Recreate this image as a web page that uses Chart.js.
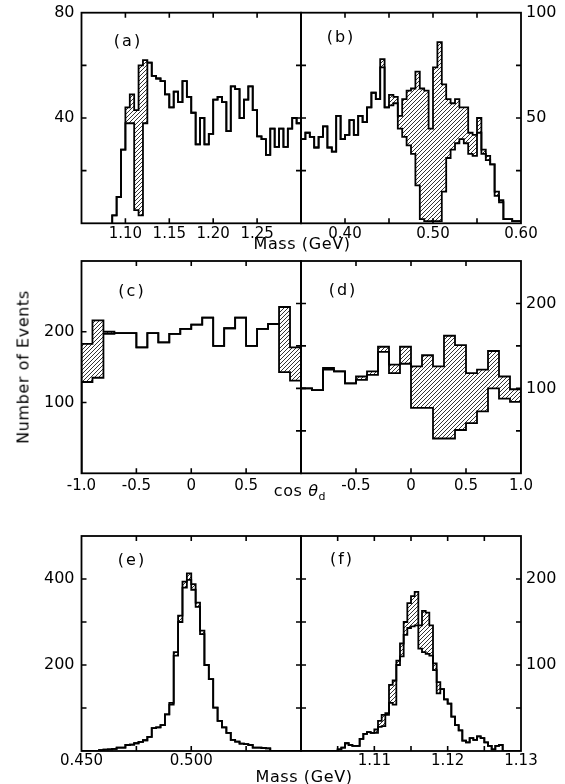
<!DOCTYPE html>
<html>
<head>
<meta charset="utf-8">
<script src="https://cdn.jsdelivr.net/npm/chart.js@4.4.1/dist/chart.umd.min.js"></script>
<style>
body { margin: 0; background: #fff; }
#fig { position: relative; width: 565px; height: 784px; overflow: hidden; font-family: "DejaVu Sans", sans-serif; color: #000; }
#fig canvas { position: absolute; left: 0; top: 0; }
.t { position: absolute; transform: translate(-50%, -50%); white-space: nowrap; }
.p { font-size: 16px; letter-spacing: 2px; }
.ax { font-size: 16px; letter-spacing: 0.6px; }
</style>
</head>
<body>
<div id="fig">
  <canvas id="ca" width="565" height="784"></canvas>
  <canvas id="cb" width="565" height="784"></canvas>
  <canvas id="cc" width="565" height="784"></canvas>
  <canvas id="cd" width="565" height="784"></canvas>
  <canvas id="ce" width="565" height="784"></canvas>
  <canvas id="cf" width="565" height="784"></canvas>
  <div class="t p" style="left:128px;top:40px">(a)</div>
  <div class="t p" style="left:341px;top:36px">(b)</div>
  <div class="t p" style="left:132px;top:290px">(c)</div>
  <div class="t p" style="left:343px;top:289px">(d)</div>
  <div class="t p" style="left:132px;top:559px">(e)</div>
  <div class="t p" style="left:342px;top:558px">(f)</div>
  <div class="t ax" style="left:302px;top:243px">Mass (GeV)</div>
  <div class="t ax" style="left:300px;top:492px">cos <i>θ</i><sub style="font-size:11px">d</sub></div>
  <div class="t ax" style="left:304px;top:776px">Mass (GeV)</div>
  <div class="t ax" style="left:23px;top:367px;transform:translate(-50%,-50%) rotate(-90deg)">Number of Events</div>
</div>
<script>
// (a) mass spectrum, 5 MeV bins from 1.085 GeV
const aStart = 1.085, aWidth = 0.005;
const aAll = [3, 10, 28, 44, 49, 43, 60, 62, 61, 56, 55, 54, 49, 44, 50, 46, 54, 48, 42, 30, 40, 30, 34, 47, 48, 46, 35, 52, 51, 40, 47, 52, 43, 33, 32, 26, 36, 29, 36, 29, 36, 40, 38];
const aCut = [3, 10, 28, 38, 38, 5, 3, 38, 61, 56, 55, 54, 49, 44, 50, 46, 54, 48, 42, 30, 40, 30, 34, 47, 48, 46, 35, 52, 51, 40, 47, 52, 43, 33, 32, 26, 36, 29, 36, 29, 36, 40, 38];
const aXTicks = ['1.10', '1.15', '1.20', '1.25'];
const aYTicks = ['40', '80'];

// (b) mass spectrum, 5 MeV bins from 0.35 GeV
const bStart = 0.35, bWidth = 0.005;
const bAll = [40, 43, 41, 36, 41, 46, 36, 34, 51, 40, 42, 49, 42, 51, 48, 55, 62, 59, 78, 55, 61, 60, 51, 59, 63, 64, 72, 64, 63, 45, 74, 86, 66, 59, 57, 59, 55, 55, 43, 42, 50, 35, 32, 28, 15, 11, 2, 2, 1, 1];
const bCut = [40, 43, 41, 36, 41, 46, 36, 34, 51, 40, 42, 49, 42, 51, 48, 55, 62, 59, 74, 55, 56, 57, 45, 41, 37, 33, 18, 2, 1, 1, 1, 1, 15, 31, 35, 38, 40, 38, 33, 32, 43, 33, 30, 28, 13, 10, 2, 2, 1, 1];
const bXTicks = ['0.40', '0.50', '0.60'];
const bYTicks = ['50', '100'];

// (c) cos theta_d, bins of 0.1
const cStart = -1, cWidth = 0.1;
const cAll = [183, 216, 200, 198, 198, 178, 198, 185, 197, 204, 210, 220, 180, 205, 220, 180, 204, 211, 235, 178];
const cCut = [129, 135, 197, 198, 198, 178, 198, 185, 197, 204, 210, 220, 180, 205, 220, 180, 204, 211, 143, 131];
const cXTicks = ['-1.0', '-0.5', '0', '0.5'];
const cYTicks = ['100', '200'];

// (d) cos theta_d, bins of 0.1
const dStart = -1, dWidth = 0.1;
const dAll = [100, 98, 124, 120, 106, 114, 120, 149, 128, 149, 126, 139, 126, 162, 151, 118, 122, 144, 114, 99];
const dCut = [100, 98, 122, 120, 106, 110, 116, 143, 118, 129, 77, 77, 41, 41, 51, 59, 73, 100, 88, 84];
const dXTicks = ['-0.5', '0', '0.5', '1.0'];
const dYTicks = ['100', '200'];

// (e) mass, 2 MeV bins from 0.450 GeV
const eStart = 0.45, eWidth = 0.002;
const eAll = [0, 0, 0, 0, 2, 3, 4, 5, 8, 8, 14, 15, 18, 21, 25, 33, 53, 55, 60, 85, 112, 230, 315, 394, 413, 388, 345, 280, 200, 167, 101, 70, 55, 42, 26, 22, 17, 16, 14, 8, 8, 7, 6, 0, 0, 0, 0, 0, 0, 0];
const eCut = [0, 0, 0, 0, 2, 3, 4, 5, 8, 8, 14, 15, 18, 21, 25, 33, 53, 55, 60, 85, 108, 222, 300, 380, 398, 375, 335, 272, 200, 167, 101, 70, 55, 42, 26, 22, 17, 16, 14, 8, 8, 7, 6, 0, 0, 0, 0, 0, 0, 0];
const eXTicks = ['0.450', '0.500'];
const eYTicks = ['200', '400'];

// (f) mass, 0.5 MeV bins from 1.100 GeV
const fStart = 1.10, fWidth = 0.0005;
const fAll = [0, 0, 0, 0, 0, 0, 0, 0, 0, 0, 2, 4, 9, 7, 6, 6, 14, 20, 22, 21, 25, 35, 42, 44, 77, 82, 105, 125, 150, 172, 180, 185, 146, 163, 161, 146, 102, 80, 72, 60, 55, 40, 30, 24, 12, 10, 15, 13, 17, 15, 10, 6, 2, 6, 7, 0, 0, 0, 0, 0];
const fCut = [0, 0, 0, 0, 0, 0, 0, 0, 0, 0, 2, 4, 9, 7, 6, 6, 14, 20, 22, 21, 21, 28, 29, 42, 56, 54, 100, 110, 135, 143, 145, 146, 119, 115, 113, 111, 94, 67, 72, 60, 55, 40, 30, 24, 12, 10, 15, 13, 17, 15, 10, 6, 2, 6, 7, 0, 0, 0, 0, 0];
const fXTicks = ['1.11', '1.12', '1.13'];
const fYTicks = ['100', '200'];

const FONT = 'DejaVu Sans';

// histogram outline: bin edges with the value held across each bin
function steps(x0, dx, vals) {
    const pts = [{ x: x0, y: 0 }];
    vals.forEach((v, i) => pts.push({ x: x0 + i * dx, y: v }));
    const end = x0 + vals.length * dx;
    pts.push({ x: end, y: vals[vals.length - 1] });
    pts.push({ x: end, y: 0 });
    return pts;
}

function hatch(ctx) {
    const c = document.createElement('canvas');
    c.width = c.height = 4;
    const g = c.getContext('2d');
    g.strokeStyle = '#000';
    g.lineWidth = 0.8;
    g.beginPath();
    g.moveTo(-1, 5); g.lineTo(5, -1);
    g.moveTo(-1, 1); g.lineTo(1, -1);
    g.moveTo(3, 5); g.lineTo(5, 3);
    g.stroke();
    return ctx.createPattern(c, 'repeat');
}

function tickText(list) {
    return v => {
        const s = list.find(s => Math.abs(parseFloat(s) - v) < 1e-9);
        return s === undefined ? '' : s;
    };
}

// frame with inward tick marks on every side
const frame = {
    id: 'frame',
    afterDraw(chart, args, o) {
        const { ctx, chartArea: a, scales: { x, y } } = chart;
        const L = 5;
        ctx.save();
        ctx.strokeStyle = '#000';
        ctx.lineWidth = 1.6;
        ctx.beginPath();
        x.ticks.forEach(t => {
            const p = x.getPixelForValue(t.value);
            if (p <= a.left + 1 || p >= a.right - 1) return;
            ctx.moveTo(p, a.top); ctx.lineTo(p, a.top + L);
            ctx.moveTo(p, a.bottom); ctx.lineTo(p, a.bottom - L);
        });
        y.ticks.forEach(t => {
            const p = y.getPixelForValue(t.value);
            if (p <= a.top + 1 || p >= a.bottom - 1) return;
            if (o.side === 'right') {
                ctx.moveTo(a.right, p); ctx.lineTo(a.right - L, p);
                ctx.moveTo(a.left - L, p); ctx.lineTo(a.left + L, p);
            } else {
                ctx.moveTo(a.left, p); ctx.lineTo(a.left + L, p);
            }
        });
        ctx.stroke();
        ctx.lineWidth = 1.8;
        ctx.strokeRect(a.left, a.top, a.right - a.left, a.bottom - a.top);
        ctx.restore();
    }
};

function panel(id, p) {
    const canvas = document.getElementById(id);
    const ctx = canvas.getContext('2d');
    const W = canvas.width, H = canvas.height, AX = 40, AY = 24;
    const [l, t, r, b] = p.box;
    const pad = p.side === 'right'
        ? { left: l, right: W - r - AX, top: t, bottom: H - b - AY }
        : { left: l - AX, right: W - r, top: t, bottom: H - b - AY };
    const fix = size => s => {
        if (s.isHorizontal()) s.height = size; else s.width = size;
        s.paddingLeft = s.paddingRight = s.paddingTop = s.paddingBottom = 0;
    };
    const line = { borderColor: '#000', borderWidth: 1.8, stepped: true, pointRadius: 0 };
    return new Chart(ctx, {
        type: 'line',
        data: {
            datasets: [
                { ...line, data: steps(p.x0, p.dx, p.all), fill: false },
                { ...line, data: steps(p.x0, p.dx, p.cut), fill: '-1', backgroundColor: hatch(ctx) }
            ]
        },
        options: {
            responsive: false,
            animation: false,
            devicePixelRatio: 1,
            events: [],
            layout: { padding: pad },
            scales: {
                x: {
                    type: 'linear', min: p.xMin, max: p.xMax,
                    afterFit: fix(AY),
                    grid: { display: false, drawTicks: false },
                    border: { display: false },
                    ticks: {
                        stepSize: p.xStep, autoSkip: false, maxRotation: 0, minRotation: 0,
                        padding: p.xPad, color: '#000', font: { family: FONT, size: 15 },
                        callback: tickText(p.xTicks)
                    }
                },
                y: {
                    type: 'linear', position: p.side, min: 0, max: p.yMax,
                    afterFit: fix(AX),
                    grid: { display: false, drawTicks: false },
                    border: { display: false },
                    ticks: {
                        stepSize: p.yStep, autoSkip: false,
                        padding: p.side === 'right' ? 5 : 7, color: '#000', font: { family: FONT, size: 16 },
                        callback: tickText(p.yTicks)
                    }
                }
            },
            plugins: { legend: { display: false }, tooltip: { enabled: false }, frame: { side: p.side } }
        },
        plugins: [frame]
    });
}

const colL = [81.5, 301], colR = [301, 521];
const row1 = [12.7, 223.3], row2 = [261, 473.3], row3 = [536, 751];

panel('ca', { box: [colL[0], row1[0], colL[1], row1[1]], side: 'left', x0: aStart, dx: aWidth, all: aAll, cut: aCut,
    xMin: 1.05, xMax: 1.30, xStep: 0.05, xTicks: aXTicks, xPad: 2, yMax: 80, yStep: 20, yTicks: aYTicks });
panel('cb', { box: [colR[0], row1[0], colR[1], row1[1]], side: 'right', x0: bStart, dx: bWidth, all: bAll, cut: bCut,
    xMin: 0.35, xMax: 0.60, xStep: 0.05, xTicks: bXTicks, xPad: 2, yMax: 100, yStep: 25, yTicks: bYTicks });
panel('cc', { box: [colL[0], row2[0], colL[1], row2[1]], side: 'left', x0: cStart, dx: cWidth, all: cAll, cut: cCut,
    xMin: -1, xMax: 1, xStep: 0.5, xTicks: cXTicks, xPad: 4, yMax: 300, yStep: 100, yTicks: cYTicks });
panel('cd', { box: [colR[0], row2[0], colR[1], row2[1]], side: 'right', x0: dStart, dx: dWidth, all: dAll, cut: dCut,
    xMin: -1, xMax: 1, xStep: 0.5, xTicks: dXTicks, xPad: 4, yMax: 250, yStep: 50, yTicks: dYTicks });
panel('ce', { box: [colL[0], row3[0], colL[1], row3[1]], side: 'left', x0: eStart, dx: eWidth, all: eAll, cut: eCut,
    xMin: 0.45, xMax: 0.55, xStep: 0.025, xTicks: eXTicks, xPad: 1, yMax: 500, yStep: 100, yTicks: eYTicks });
panel('cf', { box: [colR[0], row3[0], colR[1], row3[1]], side: 'right', x0: fStart, dx: fWidth, all: fAll, cut: fCut,
    xMin: 1.10, xMax: 1.13, xStep: 0.005, xTicks: fXTicks, xPad: 1, yMax: 250, yStep: 50, yTicks: fYTicks });
</script>
</body>
</html>
